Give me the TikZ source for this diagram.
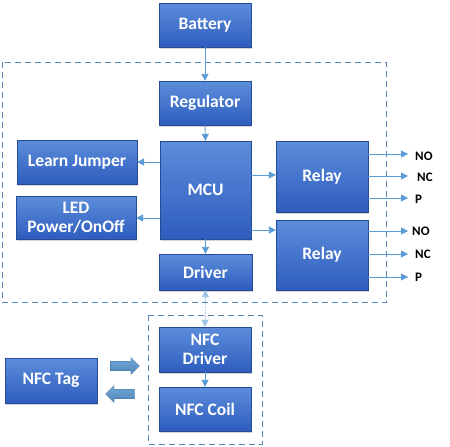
\documentclass[tikz,border=0pt]{standalone}
\usepackage{fontspec}
\setmainfont{Carlito}
\usetikzlibrary{arrows.meta,shapes.arrows,shadows}
\definecolor{boxtop}{HTML}{5C8DDA}
\definecolor{boxbot}{HTML}{2E5DBE}
\definecolor{conn}{HTML}{5B9BD5}
\definecolor{dash}{HTML}{5A86B3}
\begin{document}
\begin{tikzpicture}[x=1pt,y=-1pt,
  blk/.style={rectangle, top color=boxtop, bottom color=boxbot, draw=boxbot!80!black, line width=0.3pt,
    text=white, font=\fontsize{17.5}{19.5}\selectfont\bfseries, align=center, inner sep=1pt,
    drop shadow={shadow xshift=1.2pt, shadow yshift=-1.5pt, opacity=0.35}},
  conn/.style={draw=conn, line width=0.8pt, -{Triangle[length=7pt,width=7pt]}},
  outlbl/.style={font=\fontsize{13}{14}\selectfont\bfseries, anchor=west, inner sep=0pt},
  dbox/.style={draw=dash, line width=1pt, dash pattern=on 6pt off 4pt},
  barrow/.style={single arrow, top color=conn!85!white, bottom color=conn!85!black, draw=conn!70!black, line width=0.2pt,
    minimum height=29pt, minimum width=17pt, single arrow head extend=3.5pt, single arrow tip angle=90,
    inner xsep=0pt, inner ysep=4.5pt}
]
\useasboundingbox (0,0) rectangle (450,447);
\draw[dbox] (2.5,62) rectangle (386,302.5);
\draw[dbox] (148,315) rectangle (262,444);

\node[blk, minimum width=92pt, minimum height=44pt] (bat) at (205,25) {Battery};
\node[blk, minimum width=92pt, minimum height=44pt] (reg) at (205,103) {Regulator};
\node[blk, minimum width=91pt, minimum height=98pt] (mcu) at (205.5,190) {MCU};
\node[blk, minimum width=120pt, minimum height=44pt] (lj) at (77,162) {Learn Jumper};
\node[blk, minimum width=120pt, minimum height=43pt] (led) at (76,217.5) {LED\\Power/OnOff};
\node[blk, minimum width=92pt, minimum height=71pt] (r1) at (322,176.5) {Relay};
\node[blk, minimum width=92pt, minimum height=70pt] (r2) at (322,255) {Relay};
\node[blk, minimum width=93pt, minimum height=36pt] (drv) at (205.5,272) {Driver};
\node[blk, minimum width=92pt, minimum height=45pt] (nfcd) at (205,349.5) {NFC\\Driver};
\node[blk, minimum width=92pt, minimum height=44pt] (coil) at (205,409) {NFC Coil};
\node[blk, minimum width=92pt, minimum height=45pt] (tag) at (51,380.5) {NFC Tag};

\node[barrow, shape border rotate=0] (ba1) at (122.5,366) {};
\node[barrow, shape border rotate=180] (ba2) at (122.5,394) {};

% outputs
\coordinate (o1) at (408,154);
\coordinate (o2) at (408,176);
\coordinate (o3) at (408,198);
\coordinate (o4) at (408,231);
\coordinate (o5) at (408,254);
\coordinate (o6) at (408,277);
\node[outlbl] (l1) at (415,156) {NO};
\node[outlbl] (l2) at (417,177) {NC};
\node[outlbl] (l3) at (415,199) {P};
\node[outlbl] (l4) at (412,231) {NO};
\node[outlbl] (l5) at (415,254) {NC};
\node[outlbl] (l6) at (415,277) {P};

\draw[conn] (bat.south) -- (reg.north);
\draw[conn] (reg.south) -- (mcu.north);
\draw[conn] (mcu.west |- lj.east) -- (lj.east);
\draw[conn] (mcu.west |- 0,218) -- (led.east |- 0,218);
\draw[conn] (mcu.east |- 0,175) -- (r1.west |- 0,175);
\draw[conn] (mcu.east |- 0,230) -- (r2.west |- 0,230);
\draw[conn] (mcu.south) -- (drv.north);
\draw[conn] (r1.east |- o1) -- (o1);
\draw[conn] (r1.east |- o2) -- (o2);
\draw[conn] (r1.east |- o3) -- (o3);
\draw[conn] (r2.east |- o4) -- (o4);
\draw[conn] (r2.east |- o5) -- (o5);
\draw[conn] (r2.east |- o6) -- (o6);
\draw[conn, draw=conn!60!white, {Triangle[length=7pt,width=7pt]}-{Triangle[length=7pt,width=7pt]}, dash pattern=on 2pt off 1pt] (drv.south) -- (nfcd.north);
\draw[conn] (nfcd.south) -- (coil.north);
\end{tikzpicture}
\end{document}
